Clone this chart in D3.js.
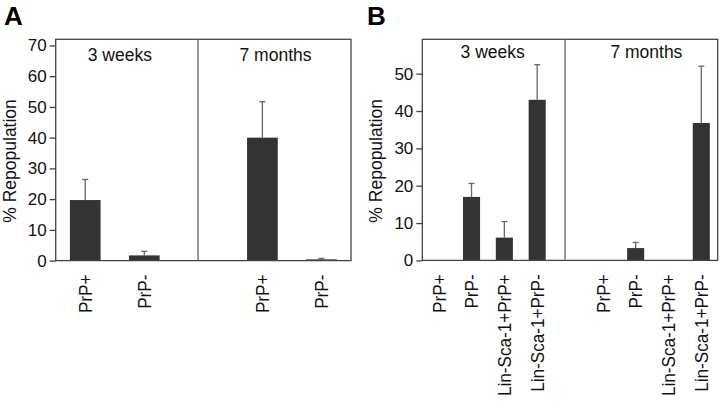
<!DOCTYPE html>
<html>
<head>
<meta charset="utf-8">
<script src="https://cdn.jsdelivr.net/npm/d3@7"></script>
<style>
  html, body { margin: 0; padding: 0; background: #fff; }
  svg { display: block; font-family: "Liberation Sans", Arial, sans-serif; }
</style>
</head>
<body>
<svg id="chart" width="720" height="403"></svg>
<script>
// ---------- DATA ----------
const groups = ["3 weeks", "7 months"];

const catsA = ["PrP+", "PrP-"];
const valuesA_3w = [19.7, 1.7];
const errA_3w = [6.7, 1.3];
const valuesA_7m = [40.0, 0.4];
const errA_7m = [11.7, 0.3];
const ticksA = [0, 10, 20, 30, 40, 50, 60, 70];
const yMaxA = 72;

const catsB = ["PrP+", "PrP-", "Lin-Sca-1+PrP+", "Lin-Sca-1+PrP-"];
const valuesB_3w = [0, 17.0, 6.1, 43.0];
const errB_3w = [0, 3.6, 4.3, 9.4];
const valuesB_7m = [0, 3.3, 0, 36.8];
const errB_7m = [0, 1.5, 0, 15.2];
const ticksB = [0, 10, 20, 30, 40, 50];
const yMaxB = 59.2;

// ---------- DRAW ----------
const svg = d3.select("#chart");

function panel(opts) {
  const { letter, letterX, left, right, top, bottom, cats, vals, errs, ticks, yMax, dividerFrac, titleY, titleShift, labelFont } = opts;
  const n = cats.length;
  const slots = d3.range(2 * n + 1);
  const x = d3.scaleBand().domain(slots).range([left, right]).padding(0);
  const y = d3.scaleLinear().domain([0, yMax]).range([bottom, top]);
  const bw = x.bandwidth() * 0.52;
  const g = svg.append("g");

  svg.append("text").attr("x", letterX).attr("y", 25)
    .attr("font-size", 26).attr("font-weight", "bold").attr("fill", "#000")
    .text(letter);

  const rows = [];
  groups.forEach((grp, gi) => {
    cats.forEach((c, i) => {
      rows.push({ cat: c, group: grp, slot: gi * (n + 1) + i, v: vals[gi][i], e: errs[gi][i] });
    });
  });

  const eb = g.selectAll(".eb").data(rows.filter(d => d.e > 0)).join("g");
  eb.append("line")
    .attr("x1", d => x(d.slot) + x.bandwidth() / 2)
    .attr("x2", d => x(d.slot) + x.bandwidth() / 2)
    .attr("y1", d => y(d.v)).attr("y2", d => y(d.v + d.e))
    .attr("stroke", "#666").attr("stroke-width", 1.3);
  eb.append("line")
    .attr("x1", d => x(d.slot) + x.bandwidth() / 2 - 3)
    .attr("x2", d => x(d.slot) + x.bandwidth() / 2 + 3)
    .attr("y1", d => y(d.v + d.e)).attr("y2", d => y(d.v + d.e))
    .attr("stroke", "#666").attr("stroke-width", 1.3);

  g.selectAll(".bar").data(rows.filter(d => d.v > 0)).join("rect")
    .attr("x", d => x(d.slot) + (x.bandwidth() - bw) / 2)
    .attr("width", bw)
    .attr("y", d => y(d.v))
    .attr("height", d => y(0) - y(d.v))
    .attr("fill", "#333");

  g.append("rect").attr("x", left).attr("y", top)
    .attr("width", right - left).attr("height", bottom - top)
    .attr("fill", "none").attr("stroke", "#444").attr("stroke-width", 1.3);

  const divX = x(n) + x.bandwidth() * dividerFrac;
  g.append("line").attr("x1", divX).attr("x2", divX)
    .attr("y1", top).attr("y2", bottom)
    .attr("stroke", "#666").attr("stroke-width", 1.3);

  const halves = [[left, divX], [divX, right]];
  groups.forEach((grp, gi) => {
    g.append("text")
      .attr("x", (halves[gi][0] + halves[gi][1]) / 2 + titleShift[gi])
      .attr("y", titleY)
      .attr("text-anchor", "middle")
      .attr("font-size", 17.5).attr("fill", "#111")
      .text(grp);
  });

  const ax = g.append("g").attr("transform", `translate(${left},0)`)
    .call(d3.axisLeft(y).tickValues(ticks).tickSize(6).tickPadding(3).tickFormat(d3.format("d")));
  ax.select(".domain").remove();
  ax.selectAll(".tick line").attr("stroke", "#444").attr("stroke-width", 1.3);
  ax.selectAll(".tick text").attr("font-size", 17).attr("fill", "#111")
    .attr("font-family", "'Liberation Sans', Arial, sans-serif");

  g.append("text")
    .attr("transform", `translate(${left - 40},${(top + bottom) / 2 + 11}) rotate(-90)`)
    .attr("text-anchor", "middle").attr("font-size", 17.5).attr("fill", "#111")
    .text("% Repopulation");

  g.selectAll(".cl").data(rows).join("text")
    .attr("transform", d => `translate(${x(d.slot) + x.bandwidth() / 2},${bottom + 14}) rotate(-90) scale(0.9,1)`)
    .attr("text-anchor", "end").attr("dy", "0.36em")
    .attr("font-size", labelFont).attr("fill", "#111")
    .text(d => d.cat);
}

panel({
  letter: "A", letterX: 4, left: 55.7, right: 351, top: 39.3, bottom: 260.6,
  cats: catsA, vals: [valuesA_3w, valuesA_7m], errs: [errA_3w, errA_7m],
  ticks: ticksA, yMax: yMaxA, dividerFrac: 0.41, titleY: 61, titleShift: [-7, 1], labelFont: 19
});
panel({
  letter: "B", letterX: 367, left: 422.3, right: 717.7, top: 39.3, bottom: 260.4,
  cats: catsB, vals: [valuesB_3w, valuesB_7m], errs: [errB_3w, errB_7m],
  ticks: ticksB, yMax: yMaxB, dividerFrac: 0.35, titleY: 58, titleShift: [-1, 5], labelFont: 19
});
</script>
</body>
</html>
